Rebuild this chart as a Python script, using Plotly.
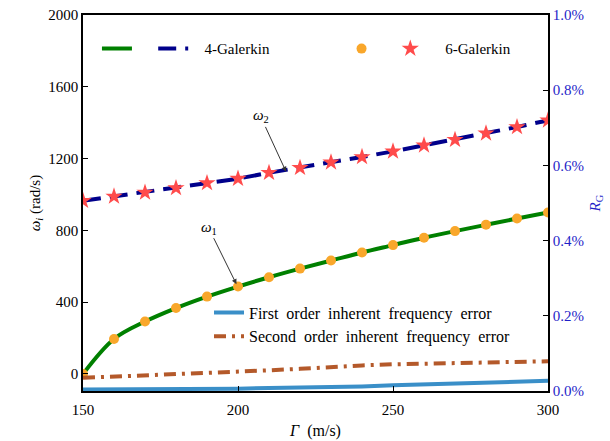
import plotly.graph_objects as go

# ---- data ----
gamma = [150, 160, 170, 180, 190, 200, 210, 220, 230, 240, 250, 260, 270, 280, 290, 300]
omega1 = [0, 195, 292, 367, 431, 487, 539, 587, 632, 677, 718, 759, 796, 831, 866, 900]
omega2 = [965, 989, 1011, 1036, 1064, 1088, 1121, 1149, 1179, 1209, 1240, 1274, 1305, 1341, 1376, 1413]
err1 = [0.004, 0.004, 0.005, 0.005, 0.006, 0.006, 0.008, 0.009, 0.010, 0.012, 0.015, 0.017, 0.020, 0.022, 0.025, 0.027]
err2 = [0.035, 0.038, 0.041, 0.044, 0.048, 0.051, 0.055, 0.059, 0.064, 0.068, 0.071, 0.073, 0.075, 0.077, 0.078, 0.079]
x_ticks = [150, 200, 250, 300]
y_ticks = [0, 400, 800, 1200, 1600, 2000]
r_ticks = [0.0, 0.2, 0.4, 0.6, 0.8, 1.0]
r_labels = ["0.0%", "0.2%", "0.4%", "0.6%", "0.8%", "1.0%"]

FONT = "Liberation Serif, Times New Roman, serif"
BLUE_TXT = "#1f1fc8"
NB = "\u00a0"

fig = go.Figure()

# 4-Galerkin lines
fig.add_trace(go.Scatter(x=gamma, y=omega1, mode="lines", name=NB * 3,
                         line=dict(color="#008000", width=4, shape="spline"),
                         legend="legend"))
fig.add_trace(go.Scatter(x=gamma, y=omega2, mode="lines", name=NB * 3 + "4-Galerkin",
                         line=dict(color="#00008b", width=4, dash="18px,9px"),
                         legend="legend"))
# 6-Galerkin markers
fig.add_trace(go.Scatter(x=gamma, y=omega1, mode="markers", name=NB,
                         marker=dict(color="#f9a72b", size=10, symbol="circle"),
                         legend="legend3"))
fig.add_trace(go.Scatter(x=gamma, y=omega2, mode="markers", name=NB * 4 + "6-Galerkin",
                         marker=dict(color="#ff4b4b", size=13, symbol="star"),
                         legend="legend3"))
# errors on right axis
fig.add_trace(go.Scatter(x=gamma, y=err1, mode="lines", yaxis="y2",
                         name=(NB * 2).join(["First", "order", "inherent", "frequency", "error"]),
                         line=dict(color="#3a8fc8", width=4), legend="legend2"))
fig.add_trace(go.Scatter(x=gamma, y=err2, mode="lines", yaxis="y2",
                         name=(NB * 2).join(["Second", "order", "inherent", "frequency", "error"]),
                         line=dict(color="#b4592a", width=4, dash="12px,6px,3px,6px"),
                         legend="legend2"))

fig.add_annotation(x=215.5, y=1127, ax=207.3, ay=1435, axref="x", ayref="y",
                   text="<i>ω</i><sub>2</sub>", showarrow=True, arrowhead=2,
                   arrowsize=1, arrowwidth=1, arrowcolor="#333333",
                   font=dict(family=FONT, size=15, color="black"))
fig.add_annotation(x=199.5, y=500, ax=190.5, ay=815, axref="x", ayref="y",
                   text="<i>ω</i><sub>1</sub>", showarrow=True, arrowhead=2,
                   arrowsize=1, arrowwidth=1, arrowcolor="#333333",
                   font=dict(family=FONT, size=15, color="black"))

axis_common = dict(showline=True, linecolor="black", linewidth=1.5, ticks="inside",
                   ticklen=5, tickcolor="black", showgrid=False, zeroline=False,
                   automargin=False)

fig.update_layout(
    width=610, height=441,
    margin=dict(l=83, r=62, t=15, b=50),
    paper_bgcolor="white", plot_bgcolor="white",
    font=dict(family=FONT, size=15, color="black"),
    xaxis=dict(range=[150, 300], tickvals=x_ticks, mirror=True, ticklabelstandoff=4,
               title=dict(text="<i>Γ</i>  (m/s)", font=dict(size=16), standoff=8),
               **axis_common),
    yaxis=dict(range=[-95, 2000], tickvals=y_ticks,
               title=dict(text="<i>ω<sub>i</sub></i> (rad/s)", font=dict(size=15), standoff=4),
               **axis_common),
    yaxis2=dict(range=[0, 1.0], tickvals=r_ticks, ticktext=r_labels,
                overlaying="y", side="right",
                tickfont=dict(family=FONT, size=15, color=BLUE_TXT),
                title=dict(text="<i>R</i><sub>G</sub>", font=dict(size=15, color=BLUE_TXT), standoff=6),
                **axis_common),
    legend=dict(x=0.03, y=0.91, xanchor="left", yanchor="middle", orientation="h",
                bgcolor="rgba(0,0,0,0)", font=dict(size=15)),
    legend3=dict(x=0.556, y=0.91, xanchor="left", yanchor="middle", orientation="h",
                 bgcolor="rgba(0,0,0,0)", font=dict(size=15)),
    legend2=dict(x=0.271, y=0.254, xanchor="left", yanchor="top", orientation="v",
                 bgcolor="rgba(0,0,0,0)", font=dict(size=16), tracegroupgap=0),
    showlegend=True,
)

fig.write_html("out.html", config={"displayModeBar": False},
               post_script="document.body.style.margin='0px';")
